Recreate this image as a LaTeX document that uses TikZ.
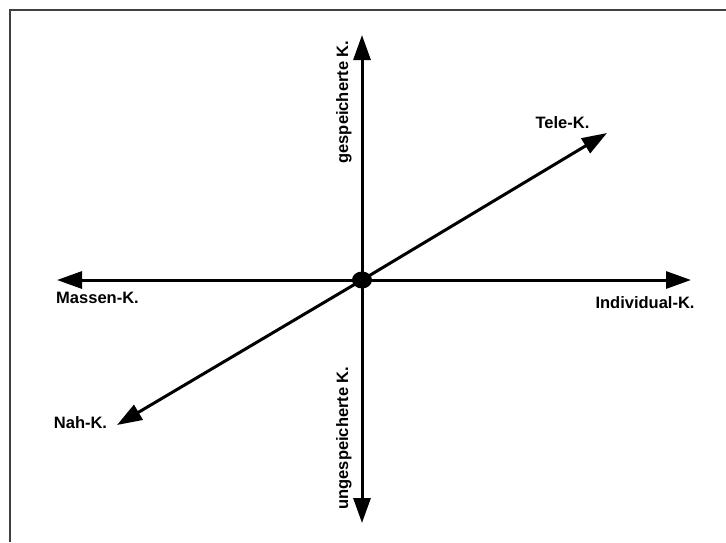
\documentclass[tikz,border=0pt]{standalone}
\usepackage{fontspec}
\setmainfont{Liberation Sans}
\usetikzlibrary{arrows.meta,positioning,shapes.geometric}

\begin{document}
\begin{tikzpicture}[
  x=1pt, y=-1pt,
  font=\fontsize{16.5}{20}\selectfont\bfseries,
  axis/.style={-{Triangle[length=25pt, width=17pt]}, line width=3pt},
  dot/.style={ellipse, fill=black, minimum width=20pt, minimum height=17pt, inner sep=0pt},
  lbl/.style={inner sep=0pt},
  frame/.style={line width=2pt, black!75}
]
\useasboundingbox (0,0) rectangle (726,542);

% frame (only left and top edges are visible)
\draw[frame] (10,542) -- (10,10) -- (726,10);

\coordinate (o) at (362,280);
\coordinate (up) at (362,35);
\coordinate (down) at (362,523);
\coordinate (left) at (57,280);
\coordinate (right) at (691,280);
\coordinate (tele) at (607,133);
\coordinate (nah) at (117,425);

\draw[axis] (o) -- (up);
\draw[axis] (o) -- (down);
\draw[axis] (o) -- (left);
\draw[axis] (o) -- (right);
\draw[axis] (o) -- (tele);
\draw[axis] (o) -- (nah);

\node[dot] (centre) at (o) {};

\node[lbl, rotate=90] (gesp) at (344,102) {gespeicherte K.};
\node[lbl, rotate=90] (ungesp) at (344,438) {ungespeicherte K.};
\node[lbl] (massen) at (97.5,298) {Massen-K.};
\node[lbl] (indiv) at (645,303) {Individual-K.};
\node[lbl] (nahk) at (80.5,423) {Nah-K.};
\node[lbl] (telek) at (562.5,123) {Tele-K.};

\end{tikzpicture}
\end{document}
